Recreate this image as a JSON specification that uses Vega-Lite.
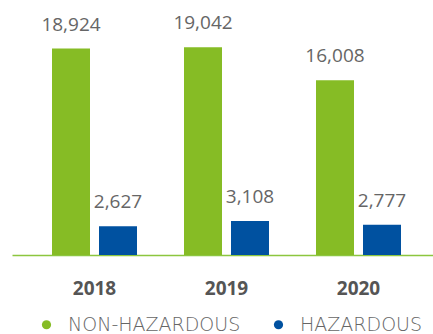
{
  "$schema": "https://vega.github.io/schema/vega-lite/v6.json",
  "width": 421,
  "height": 240,
  "autosize": {"type": "none"},
  "padding": {"left": 12, "top": 15, "right": 0, "bottom": 79},
  "background": "white",
  "config": {
    "view": {"stroke": null},
    "font": "Open Sans"
  },
  "data": {
    "values": [
      {"year": "2018", "type": "NON-HAZARDOUS", "value": 18924},
      {"year": "2018", "type": "HAZARDOUS", "value": 2627},
      {"year": "2019", "type": "NON-HAZARDOUS", "value": 19042},
      {"year": "2019", "type": "HAZARDOUS", "value": 3108},
      {"year": "2020", "type": "NON-HAZARDOUS", "value": 16008},
      {"year": "2020", "type": "HAZARDOUS", "value": 2777}
    ]
  },
  "encoding": {
    "x": {
      "field": "year",
      "type": "nominal",
      "scale": {"paddingInner": 0, "paddingOuter": 0.0947, "align": 0.66},
      "axis": {
        "title": null,
        "labelAngle": 0,
        "ticks": false,
        "domainColor": "#8cc63f",
        "domainWidth": 1.5,
        "labelFont": "Open Sans",
        "labelFontWeight": "bold",
        "labelFontSize": 19,
        "labelColor": "#555555",
        "labelPadding": 24
      }
    },
    "xOffset": {
      "field": "type",
      "type": "nominal",
      "sort": ["NON-HAZARDOUS", "HAZARDOUS"],
      "scale": {"paddingInner": 0.1915, "paddingOuter": 0.5}
    },
    "y": {
      "field": "value",
      "type": "quantitative",
      "scale": {"domain": [0, 22000]},
      "axis": null
    }
  },
  "layer": [
    {
      "mark": {"type": "bar"},
      "encoding": {
        "color": {
          "field": "type",
          "type": "nominal",
          "sort": ["NON-HAZARDOUS", "HAZARDOUS"],
          "scale": {"domain": ["NON-HAZARDOUS", "HAZARDOUS"], "range": ["#86bc25", "#0051a0"]},
          "legend": {
            "title": null,
            "orient": "none",
            "direction": "horizontal",
            "legendX": 25,
            "legendY": 300,
            "symbolType": "circle",
            "symbolSize": 85,
            "symbolStrokeWidth": 0,
            "labelFontSize": 19,
            "labelColor": "#666666",
            "labelFont": "DejaVu Sans",
            "labelFontWeight": 300,
            "labelLimit": 300,
            "labelOffset": 12,
            "columnPadding": 28
          }
        }
      }
    },
    {
      "mark": {"type": "text", "dy": -18, "baseline": "alphabetic", "fontSize": 19, "color": "#666666", "font": "Open Sans"},
      "encoding": {
        "text": {"field": "value", "type": "quantitative", "format": ","}
      }
    }
  ]
}
